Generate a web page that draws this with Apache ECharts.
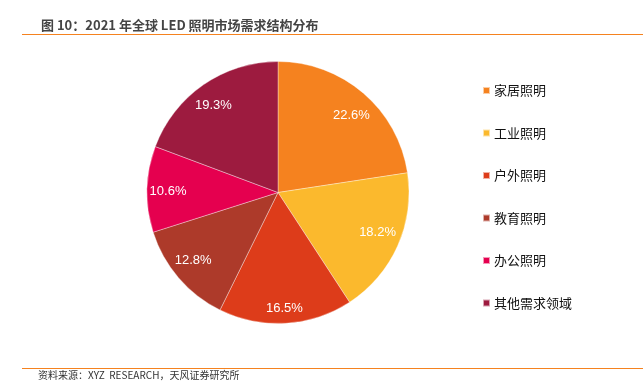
<!DOCTYPE html>
<html><head><meta charset="utf-8">
<script src="https://cdn.jsdelivr.net/npm/echarts@6/dist/echarts.min.js"></script>
<style>html,body{margin:0;padding:0;background:#fff}#c{width:643px;height:391px}</style>
</head><body><div id="c"></div>
<script>
const categories = ['家居照明','工业照明','户外照明','教育照明','办公照明','其他需求领域'];
const values = [22.6, 18.2, 16.5, 12.8, 10.6, 19.3];
const colors = ['#F5821F','#FBB92D','#DD3C1A','#AD3A2A','#E5004F','#9D1B3F'];
const titleText = '图 10：2021 年全球 LED 照明市场需求结构分布';
const sourceText = '资料来源：XYZ  RESEARCH，天风证券研究所';

// small label placement nudges (style only), mimicking the original best-fit label placement
const labelStyleNudge = [[3,5],[1,-4],[0,8],[-3,-2],[-2,2],[-3,2]];

const data = categories.map((n,i)=>({name:n, value:values[i], itemStyle:{color:colors[i]}}));
const chart = echarts.init(document.getElementById('c'), null, {renderer:'canvas'});
const cjk = '"Noto Sans CJK SC", sans-serif';
chart.setOption({
  animation:false,
  title:{text:titleText, left:36, top:14, textStyle:{fontFamily:cjk, fontSize:13, fontWeight:'bold', color:'#444'}},
  legend:{orient:'vertical', left:477, top:79, itemWidth:7, itemHeight:7, icon:'rect', itemGap:29.5,
    data:categories, textStyle:{fontFamily:cjk, fontSize:13, color:'#111', padding:[0,0,0,-1]}},
  graphic:[
    {type:'line', shape:{x1:22,y1:34.5,x2:643,y2:34.5}, style:{stroke:'#F5821F', lineWidth:1.2}},
    {type:'line', shape:{x1:22,y1:368.5,x2:643,y2:368.5}, style:{stroke:'#F5821F', lineWidth:1.2}},
    {type:'text', left:38, top:370, style:{text:sourceText, font:'10px "Noto Sans CJK SC", sans-serif', fill:'#333'}}
  ],
  series:[
    {type:'pie', center:[278,192.5], radius:[0,131], startAngle:90, clockwise:true, data:data,
     label:{show:false}, labelLine:{show:false}, itemStyle:{borderColor:'rgba(255,255,255,0.6)', borderWidth:0.6}},
    {type:'pie', center:[278,192.5], radius:[79,131], startAngle:90, clockwise:true, silent:true,
     legendHoverLink:false,
     data:categories.map((n,i)=>({name:n+' ', value:values[i], label:{offset:labelStyleNudge[i]}})),
     itemStyle:{color:'rgba(0,0,0,0)'},
     label:{show:true, position:'inside', formatter:p=>values[p.dataIndex].toFixed(1)+'%',
       color:'#fff', fontSize:13, fontFamily:'"Liberation Sans", Arial, sans-serif'}, labelLine:{show:false}}
  ]
});
</script></body></html>
